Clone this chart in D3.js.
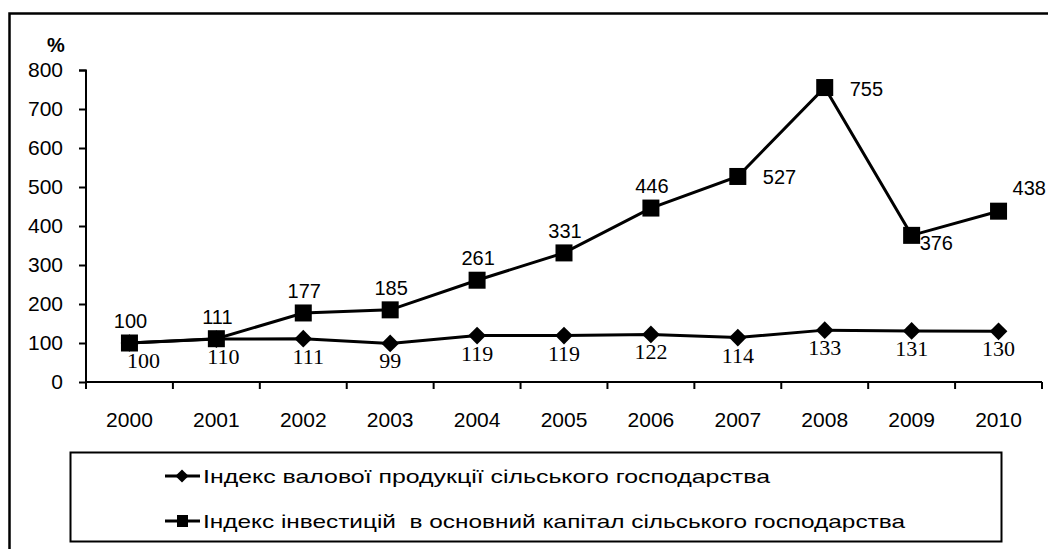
<!DOCTYPE html>
<html>
<head>
<meta charset="utf-8">
<script src="https://cdn.jsdelivr.net/npm/d3@7"></script>
<style>
  body { margin: 0; background: #fff; }
  svg { display: block; font-family: "Liberation Sans", Arial, sans-serif; }
</style>
</head>
<body>
<div id="chart"></div>
<script>
'use strict';

const years = ["2000", "2001", "2002", "2003", "2004", "2005", "2006", "2007", "2008", "2009", "2010"];
const production = [100, 110, 111, 99, 119, 119, 122, 114, 133, 131, 130];
const investment = [100, 111, 177, 185, 261, 331, 446, 527, 755, 376, 438];
const yTicks = [0, 100, 200, 300, 400, 500, 600, 700, 800];
const legendLabels = [
    "Індекс валової продукції сільського господарства",
    "Індекс інвестицій  в основний капітал сільського господарства"
];

const W = 1048, H = 549;
const svg = d3.select("#chart").append("svg")
    .attr("width", W).attr("height", H);

// outer frame (right and bottom run off the picture)
svg.append("path")
    .attr("d", "M9.5," + H + "V13.5H" + W)
    .attr("fill", "none").attr("stroke", "#000").attr("stroke-width", 2.5);

const x = d3.scaleBand().domain(years).range([86, 1042]);
const y = d3.scaleLinear().domain([0, 800]).range([382, 70]);
const cx = d => x(d) + x.bandwidth() / 2;

// y axis
const yAxis = svg.append("g")
    .attr("transform", "translate(86,0)")
    .call(d3.axisLeft(y).tickValues(yTicks).tickSize(7).tickPadding(16).tickFormat(d3.format("d")));
yAxis.select(".domain").attr("stroke-width", 2).attr("d", "M-7,70.5H0V382");
yAxis.selectAll(".tick line").attr("stroke-width", 2);
yAxis.selectAll("text").attr("font-size", 21).attr("font-family", "Liberation Sans, Arial, sans-serif").attr("fill", "#000");

// x axis: ticks at band boundaries
const xAxis = svg.append("g").attr("transform", "translate(0,382)");
xAxis.append("line").attr("x1", 86).attr("x2", 1042).attr("stroke", "#000").attr("stroke-width", 2);
const bounds = years.map(d => x(d)).concat([x.range()[1]]);
xAxis.selectAll("line.tk").data(bounds).enter().append("line")
    .attr("class", "tk")
    .attr("x1", d => d).attr("x2", d => d)
    .attr("y1", 0).attr("y2", 7)
    .attr("stroke", "#000").attr("stroke-width", 2);
xAxis.selectAll("text").data(years).enter().append("text")
    .attr("x", d => cx(d)).attr("y", 45)
    .attr("text-anchor", "middle").attr("font-size", 21)
    .text(d => d);

svg.append("text").attr("x", 56).attr("y", 52)
    .attr("text-anchor", "middle").attr("font-size", 20).attr("font-weight", "bold")
    .text("%");

const line = d3.line().x((d, i) => cx(years[i])).y(d => y(d));

// production series (diamonds)
svg.append("path").datum(production)
    .attr("d", line).attr("fill", "none").attr("stroke", "#000").attr("stroke-width", 3);
svg.append("g").selectAll("path").data(production).enter().append("path")
    .attr("transform", (d, i) => "translate(" + cx(years[i]) + "," + y(d) + ")")
    .attr("d", d3.symbol().type(d3.symbolDiamond2).size(200))
    .attr("fill", "#000");

// investment series (squares)
svg.append("path").datum(investment)
    .attr("d", line).attr("fill", "none").attr("stroke", "#000").attr("stroke-width", 3);
svg.append("g").selectAll("rect").data(investment).enter().append("rect")
    .attr("x", (d, i) => cx(years[i]) - 8.5).attr("y", d => y(d) - 8.5)
    .attr("width", 17).attr("height", 17).attr("fill", "#000");

// labels for production: below the marker, serif
const prodShift = [14, 7, 5, 0, 0, 0, 0, 0, 0, 0, 0];
svg.append("g").selectAll("text").data(production).enter().append("text")
    .attr("x", (d, i) => cx(years[i]) + prodShift[i])
    .attr("y", d => y(d) + 25)
    .attr("text-anchor", "middle")
    .attr("font-family", "Liberation Serif, Times New Roman, serif")
    .attr("font-size", 22)
    .text(d => d);

// labels for investment
const invPos = ["above", "above", "above", "above", "above", "above", "above", "right", "right", "belowright", "aboveright"];
svg.append("g").selectAll("text").data(investment).enter().append("text")
    .attr("x", (d, i) => {
        const p = invPos[i];
        if (p === "right") return cx(years[i]) + 25;
        if (p === "belowright") return cx(years[i]) + 8;
        if (p === "aboveright") return cx(years[i]) + 14;
        return cx(years[i]) + 1;
    })
    .attr("y", (d, i) => {
        const p = invPos[i];
        if (p === "right") return y(d) + 8;
        if (p === "belowright") return y(d) + 15;
        if (p === "aboveright") return y(d) - 16;
        return y(d) - 15;
    })
    .attr("text-anchor", (d, i) => invPos[i] === "above" ? "middle" : "start")
    .attr("font-size", 20)
    .text(d => d);

// legend
const legend = svg.append("g");
legend.append("rect").attr("x", 70.5).attr("y", 452.5).attr("width", 931).attr("height", 89)
    .attr("fill", "#fff").attr("stroke", "#000").attr("stroke-width", 2);
const legY = [476, 521];
const legW = [567, 702];
legendLabels.forEach((lab, i) => {
    const g = legend.append("g").attr("transform", "translate(0," + legY[i] + ")");
    g.append("line").attr("x1", 165).attr("x2", 200).attr("stroke", "#000").attr("stroke-width", 3);
    if (i === 0) {
        g.append("path").attr("transform", "translate(182,0)")
            .attr("d", d3.symbol().type(d3.symbolDiamond2).size(110)).attr("fill", "#000");
    } else {
        g.append("rect").attr("x", 177).attr("y", -6).attr("width", 11).attr("height", 12).attr("fill", "#000");
    }
    g.append("text").attr("x", 203).attr("y", 7).attr("font-size", 19)
        .attr("textLength", legW[i]).attr("lengthAdjust", "spacingAndGlyphs")
        .style("white-space", "pre")
        .text(lab);
});
</script>
</body>
</html>
